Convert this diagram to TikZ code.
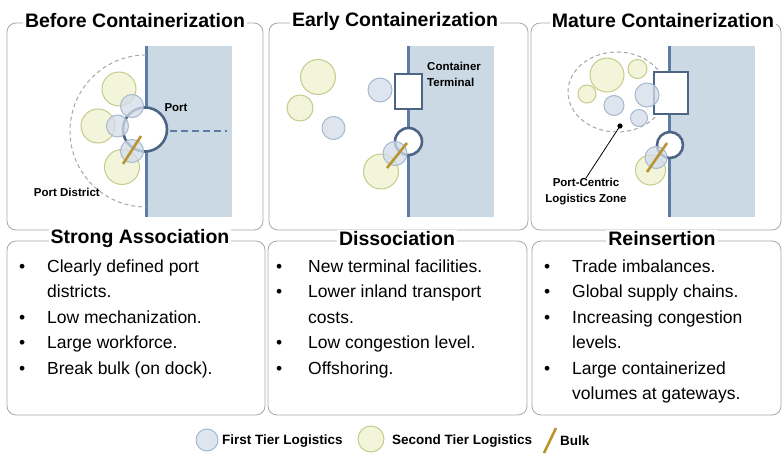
\documentclass[tikz,border=0pt]{standalone}
\usepackage{fontspec}
\setmainfont{Liberation Sans}
\usetikzlibrary{calc}
\definecolor{water}{HTML}{CAD9E3}
\definecolor{coast}{HTML}{5D7DA5}
\definecolor{portline}{HTML}{4D6585}
\definecolor{tierone}{HTML}{D3DCE9}
\definecolor{tieroneline}{HTML}{A6B8CE}
\definecolor{tiertwo}{HTML}{F3F5DA}
\definecolor{tiertwoline}{HTML}{C6CB8A}
\definecolor{bulk}{HTML}{B8952E}
\definecolor{frame}{HTML}{A8A8A8}
\tikzset{
	panel/.style={draw=frame, rounded corners=9pt, line width=0.8pt},
	ptitle/.style={fill=white, inner sep=2pt, font=\bfseries\fontsize{19.5}{20}\selectfont},
	first/.style={draw=tieroneline, fill=tierone, fill opacity=0.75, line width=1pt},
	second/.style={draw=tiertwoline, fill=tiertwo, line width=1pt},
	bulkline/.style={draw=bulk, line width=2.6pt},
	portring/.style={draw=portline, fill=white, line width=2.6pt},
	zoneline/.style={draw=gray!70, dash pattern=on 4pt off 3pt, line width=1pt},
	smalllabel/.style={font=\bfseries\fontsize{11.5}{16}\selectfont, inner sep=0pt},
	bullets/.style={anchor=north west, inner sep=0pt, font=\fontsize{17.5}{25.5}\selectfont},
	legend/.style={anchor=west, inner sep=0pt, font=\bfseries\fontsize{13.5}{15}\selectfont}
}

\begin{document}
\begin{tikzpicture}[x=1pt, y=-1pt]
		\useasboundingbox (0, 0) rectangle (784, 454);
		%%%%% START %%%%%
		\draw[panel] (7, 23) rectangle (263, 230);
		\draw[panel] (269, 23) rectangle (528, 230);
		\draw[panel] (531, 23) rectangle (781, 230);
		\draw[panel] (7, 241) rectangle (265, 415);
		\draw[panel] (268, 241) rectangle (527, 415);
		\draw[panel] (532, 241) rectangle (781, 415);
		
		%%%%% before containerization
		\fill[water] (146, 46) rectangle (232, 217);
		\draw[coast, line width=3pt] (146, 46) -- (146, 217);
		\draw[zoneline] (146, 55) arc[start angle=270, end angle=90, radius=76];
		\draw[coast, dash pattern=on 7pt off 4pt, line width=1.4pt] (170, 131) -- (227, 131);
		\draw[portring] (145, 129.5) circle[radius=22];
		\draw[second] (119, 89) circle[radius=17];
		\draw[second] (98, 126) circle[radius=17];
		\draw[second] (122, 167) circle[radius=17.5];
		\draw[first] (132, 106) circle[radius=11.5];
		\draw[first] (117.5, 126) circle[radius=11];
		\draw[first] (132, 151) circle[radius=11.5];
		\draw[bulkline] (123, 164) -- (141, 136);
		\node[smalllabel] (port) at (176, 108) {Port};
		\node[smalllabel, anchor=east] (district) at (100, 192) {Port District};
		
		%%%%% early containerization
		\fill[water] (408, 46) rectangle (494, 217);
		\draw[coast, line width=3pt] (408, 46) -- (408, 217);
		\draw[portring] (395, 74) rectangle (422, 109);
		\draw[portring] (408.5, 141.5) circle[radius=13.5];
		\draw[second] (318, 77) circle[radius=17.5];
		\draw[second] (300, 108) circle[radius=13];
		\draw[second] (381, 171.5) circle[radius=17.5];
		\draw[first] (380, 90) circle[radius=12];
		\draw[first] (333.5, 128) circle[radius=11.5];
		\draw[first] (395, 153.5) circle[radius=12];
		\draw[bulkline] (387, 168) -- (407, 143);
		\node[smalllabel, anchor=north west, align=left] (terminal) at (427, 62) {Container\\Terminal};
		
		%%%%% mature containerization
		\fill[water] (669, 46) rectangle (755, 217);
		\draw[coast, line width=3pt] (669, 46) -- (669, 217);
		\draw[zoneline] (617, 92) ellipse[x radius=49, y radius=40];
		\draw[portring] (654, 72) rectangle (688, 114);
		\draw[portring] (670, 145) circle[radius=13];
		\draw[second] (607, 75) circle[radius=17];
		\draw[second] (637.5, 69) circle[radius=9.5];
		\draw[second] (587, 94) circle[radius=9];
		\draw[second] (650.5, 170) circle[radius=15];
		\draw[first] (647, 95) circle[radius=12];
		\draw[first] (614, 105.5) circle[radius=10];
		\draw[first] (639, 118) circle[radius=8.5];
		\draw[first] (656, 157.5) circle[radius=11];
		\draw[bulkline] (647, 172) -- (667, 143);
		\node[smalllabel, align=center, anchor=north] (zone) at (586, 178) {Port-Centric\\Logistics Zone};
		\coordinate (zonedot) at (620, 126);
		\fill (zonedot) circle[radius=2.6];
		\draw[line width=0.8pt] (zonedot) -- (zone.north);
		
		%%%%% titles
		\node[ptitle] (before) at (135, 21) {Before Containerization};
		\node[ptitle] (early) at (395, 21) {Early Containerization};
		\node[ptitle] (mature) at (663, 21) {Mature Containerization};
		\node[ptitle] (strong) at (140, 239) {Strong Association};
		\node[ptitle] (dissoc) at (397, 239) {Dissociation};
		\node[ptitle] (reins) at (662, 239) {Reinsertion};
		
		%%%%% bullet lists
		\node[bullets] (listbefore) at (19, 254) {\begin{tabular}{@{}p{28pt}@{}l@{}}
				\textbullet & Clearly defined port\\
				& districts.\\
				\textbullet & Low mechanization.\\
				\textbullet & Large workforce.\\
				\textbullet & Break bulk (on dock).
			\end{tabular}};
		\node[bullets] (listearly) at (276, 254) {\begin{tabular}{@{}p{32pt}@{}l@{}}
				\textbullet & New terminal facilities.\\
				\textbullet & Lower inland transport\\
				& costs.\\
				\textbullet & Low congestion level.\\
				\textbullet & Offshoring.
			\end{tabular}};
		\node[bullets] (listmature) at (544, 254) {\begin{tabular}{@{}p{28pt}@{}l@{}}
				\textbullet & Trade imbalances.\\
				\textbullet & Global supply chains.\\
				\textbullet & Increasing congestion\\
				& levels.\\
				\textbullet & Large containerized\\
				& volumes at gateways.
			\end{tabular}};
		
		%%%%% legend
		\draw[first] (207, 440) circle[radius=11];
		\node[legend] (firsttier) at (222, 441) {First Tier Logistics};
		\draw[second] (371, 439) circle[radius=13];
		\node[legend] (secondtier) at (392, 441) {Second Tier Logistics};
		\draw[bulkline] (544, 453) -- (556, 428);
		\node[legend] (bulklabel) at (560, 441) {Bulk};
		%%%%% END %%%%%
	\end{tikzpicture}
\end{document}
